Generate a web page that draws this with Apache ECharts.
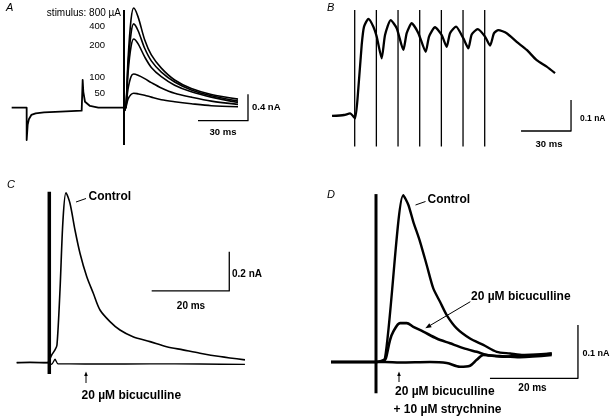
<!DOCTYPE html>
<html><head><meta charset="utf-8">
<script src="https://cdn.jsdelivr.net/npm/echarts@6/dist/echarts.min.js"></script>
<style>html,body{margin:0;padding:0;background:#fff}#c{width:614px;height:419px}</style>
</head><body><div id="c"></div>
<script>
// ---------- Panel A (ms, nA) ----------
const aPreT = [-67.4, -58.4, -58.4, -57.8, -57.0, -55.6, -53.0, -48.0, -38.0, -25.4, -24.8, -24.8, -24.4, -23.4, -20.4, -15.4, -1.4, 0];
const aPre  = [0, 0, -0.49, -0.26, -0.17, -0.11, -0.085, -0.07, -0.06, -0.045, -0.045, 0.42, 0.24, 0.09, 0.026, 0, 0, 0];
const aT   = [0, 1.2, 2.4, 4.2, 5.8, 8.4, 12.4, 16.4, 22.4, 30.4, 40.4, 52.4, 68.4];
const a800 = [-0.06, 0.03, 0.72, 1.33, 1.51, 1.38, 1.03, 0.80, 0.60, 0.42, 0.29, 0.20, 0.13];
const a400 = [-0.06, 0.03, 0.62, 1.12, 1.27, 1.17, 0.90, 0.71, 0.54, 0.39, 0.27, 0.18, 0.10];
const a200 = [-0.06, 0.03, 0.52, 0.92, 1.04, 0.97, 0.77, 0.61, 0.47, 0.34, 0.24, 0.16, 0.08];
const a100 = [-0.06, 0.02, 0.28, 0.47, 0.51, 0.49, 0.44, 0.38, 0.30, 0.22, 0.16, 0.10, 0.05];
const a50  = [-0.06, 0.01, 0.13, 0.20, 0.22, 0.21, 0.19, 0.16, 0.12, 0.09, 0.06, 0.03, 0.015];
const aStimLabels = ['stimulus: 800 µA', '400', '200', '100', '50'];
const aArtifact = [-0.565, 1.48];

// ---------- Panel B ----------
const bT = [-13.6, -6.4, -2.8, 0.2, 2.2, 4.2, 5.6, 8.2, 11.2, 13.2, 16.2, 18.2, 21.6, 25.2, 29.2, 31.2, 34.2, 38.2, 42.6, 44.6, 48.2, 52.2, 55.2, 57.2, 60.8, 65.2, 68.2, 70.2, 73.8, 78.2, 81.2, 83.6, 86.2, 91.2, 97.2, 103.2, 109.2, 115.2, 120.2];
const bI = [-0.003, 0, 0.005, -0.011, 0.087, 0.226, 0.285, 0.310, 0.285, 0.253, 0.183, 0.258, 0.306, 0.280, 0.210, 0.264, 0.296, 0.264, 0.204, 0.253, 0.283, 0.258, 0.220, 0.264, 0.285, 0.247, 0.215, 0.260, 0.277, 0.253, 0.224, 0.264, 0.274, 0.264, 0.236, 0.210, 0.177, 0.156, 0.135];
const bStimT = [0, 13, 26, 39, 52, 65, 78];
const bArtifact = [-0.102, 0.339];

// ---------- Panel C ----------
const cT = [-8.4, -5.0, -0.6, 0.62, 1.47, 1.98, 2.76, 3.53, 4.30, 5.33, 6.62, 7.91, 9.64, 11.34, 13.07, 15.64, 18.22, 21.57, 25.95, 30.25, 34.45, 38.84, 43.99, 50.43];
const cControl = [0, 0.002, 0, 0.039, 0.065, 0.090, 0.370, 0.726, 0.865, 0.811, 0.675, 0.557, 0.438, 0.353, 0.268, 0.209, 0.166, 0.132, 0.107, 0.081, 0.065, 0.048, 0.031, 0.014];
const cBicT = [-8.4, -0.6, 0.62, 1.47, 2.24, 5.33, 13.07, 25.95, 38.84, 50.43];
const cBic = [0, 0, -0.008, 0.017, -0.006, -0.006, -0.007, -0.006, -0.007, -0.009];
const cArtifact = [-0.0575, 0.87];

// ---------- Panel D ----------
const dCT = [-10.23, 0, 2.05, 6.21, 7.34, 8.48, 10.0, 11.52, 13.02, 14.55, 16.07, 18.34, 21.37, 24.39, 27.44, 30.46, 33.48, 36.53, 39.94];
const dControl = [0, 0, 0.007, 0.313, 0.295, 0.263, 0.226, 0.182, 0.138, 0.113, 0.088, 0.063, 0.044, 0.032, 0.019, 0.016, 0.013, 0.013, 0.016];
const dBT = [-10.23, 0, 2.05, 2.43, 3.18, 3.93, 5.46, 6.98, 8.48, 10.75, 13.80, 16.82, 19.84, 22.89, 25.91, 28.94, 32.73, 39.94];
const dBic = [0, 0, 0.004, 0.013, 0.041, 0.057, 0.073, 0.073, 0.066, 0.057, 0.044, 0.035, 0.026, 0.019, 0.012, 0.010, 0.012, 0.016];
const dST = [-10.23, 0, 2.05, 5.46, 12.27, 16.07, 19.09, 21.37, 22.89, 24.39, 28.18, 32.73, 39.94];
const dStr = [0, 0, 0, -0.001, 0, -0.002, -0.009, -0.007, 0.004, 0.013, 0.011, 0.009, 0.013];
const dArtifact = [-0.0587, 0.315];

// scale bars: [ms, nA]
const scaleA = [30, 0.4], scaleB = [30, 0.1], scaleC = [20, 0.2], scaleD = [20, 0.1];

// ---------- build ----------
const zip = (t, v) => t.map((x, i) => [x, v[i]]);
const K = '#000';
function ln(g, data, w, smooth, extra) {
  return Object.assign({
    type: 'line', xAxisIndex: g, yAxisIndex: g, data: data, symbol: 'none', silent: true,
    smooth: smooth || false, animation: false, clip: false,
    lineStyle: { color: K, width: w, cap: 'butt', join: 'round' }
  }, extra || {});
}
function bar(g, t0, i0, s) { // L-shaped scale bar: horizontal then vertical at right end
  return ln(g, [[t0, i0], [t0 + s[0], i0], [t0 + s[0], i0 + s[1]]], 1.3, false);
}
const series = [];
// A
series.push(ln(0, zip(aPreT, aPre), 1.8, false));
[a800, a400, a200, a100, a50].forEach(a => series.push(ln(0, zip(aT, a), 1.6, 0.3)));
series.push(ln(0, [[0, aArtifact[0]], [0, aArtifact[1]]], 2));
series.push(bar(0, 44.4, -0.197, scaleA));
// B
series.push(ln(1, zip(bT, bI), 2.3, 0.2));
bStimT.forEach(t => series.push(ln(1, [[t, bArtifact[0]], [t, bArtifact[1]]], 1.3)));
series.push(bar(1, 99.8, -0.0516, scaleB));
// C
series.push(ln(2, zip(cBicT, cBic), 1.4, 0.2));
series.push(ln(2, zip(cT, cControl), 1.6, 0.3));
series.push(ln(2, [[0, cArtifact[0]], [0, cArtifact[1]]], 3.5));
series.push(bar(2, 26.39, 0.365, scaleC));
// D
series.push(ln(3, zip(dST, dStr), 2.6, 0.3));
series.push(ln(3, zip(dBT, dBic), 2.6, 0.3));
series.push(ln(3, zip(dCT, dControl), 2.4, 0.25));
series.push(ln(3, [[0, dArtifact[0]], [0, dArtifact[1]]], 3));
series.push(bar(3, 25.9, -0.0306, scaleD));

const grids = [
  { left: 7.33, top: 2.1, width: 250, height: 145.2 },
  { left: 324.7, top: 6.5, width: 250, height: 142.6 },
  { left: 10.5, top: 185.8, width: 248.3, height: 196.5 },
  { left: 323.2, top: 186.1, width: 264, height: 213.2 }
];
const xr = [[-70, 80], [-18, 132], [-10, 54], [-12, 48]];
const yr = [[-0.6, 1.6], [-0.11, 0.35], [-0.1, 0.9], [-0.07, 0.33]];
const xAxis = xr.map((r, i) => ({ type: 'value', gridIndex: i, min: r[0], max: r[1], show: false }));
const yAxis = yr.map((r, i) => ({ type: 'value', gridIndex: i, min: r[0], max: r[1], show: false }));

const FF = '"Liberation Sans", Arial, sans-serif';
function txt(s, x, y, size, opt) {
  opt = opt || {};
  return { type: 'text', x: x, y: y, silent: true, style: {
    text: s, fill: K, font: (opt.italic ? 'italic ' : '') + (opt.bold ? 'bold ' : '') + size + 'px ' + FF,
    align: opt.align || 'left', verticalAlign: 'middle', textAlign: opt.align || 'left', textVerticalAlign: 'middle' } };
}
function seg(x1, y1, x2, y2, w) {
  return { type: 'line', silent: true, shape: { x1, y1, x2, y2 }, style: { stroke: K, lineWidth: w || 1 } };
}
function head(pts) {
  return { type: 'polygon', silent: true, shape: { points: pts }, style: { fill: K } };
}
const graphic = [
  txt('A', 6, 8, 11, { italic: true }),
  txt('B', 327, 8, 11, { italic: true }),
  txt('C', 7, 185, 11, { italic: true }),
  txt('D', 327, 195, 11, { italic: true }),
  txt(aStimLabels[0], 121, 13, 10, { align: 'right' }),
  txt(aStimLabels[1], 105, 26, 9.5, { align: 'right' }),
  txt(aStimLabels[2], 105, 45, 9.5, { align: 'right' }),
  txt(aStimLabels[3], 105, 77, 9.5, { align: 'right' }),
  txt(aStimLabels[4], 105, 93, 9.5, { align: 'right' }),
  txt(scaleA[1] + ' nA', 252, 107.5, 9.5, { bold: true }),
  txt(scaleA[0] + ' ms', 223, 132.5, 9.5, { bold: true, align: 'center' }),
  txt(scaleB[1] + ' nA', 580, 118.5, 8.5, { bold: true }),
  txt(scaleB[0] + ' ms', 549, 144, 9.5, { bold: true, align: 'center' }),
  txt(scaleC[1] + ' nA', 232, 274, 10, { bold: true }),
  txt(scaleC[0] + ' ms', 191, 306, 10, { bold: true, align: 'center' }),
  txt(scaleD[1] + ' nA', 582.5, 354, 9, { bold: true }),
  txt(scaleD[0] + ' ms', 532.5, 388.5, 10, { bold: true, align: 'center' }),
  txt('Control', 88.5, 197, 12, { bold: true }),
  txt('20 µM bicuculline', 81.5, 395.5, 12, { bold: true }),
  txt('Control', 427.5, 199.5, 12, { bold: true }),
  txt('20 µM bicuculline', 471, 297, 12, { bold: true }),
  txt('20 µM bicuculline', 395, 392, 12, { bold: true }),
  txt('+ 10 µM strychnine', 393.5, 410, 12, { bold: true }),
  // pointers
  seg(76, 202, 86, 198.5, 1),
  seg(86, 383, 86, 375, 1),
  head([[86, 371.5], [84.2, 376], [87.8, 376]]),
  seg(415.5, 205, 425.5, 201.5, 1),
  seg(470.3, 301.7, 429.5, 325.8, 1),
  head([[425.3, 328.3], [431.7, 327.2], [429.3, 323.2]]),
  seg(399, 382, 399, 375, 1),
  head([[399, 371.5], [397.2, 376], [400.8, 376]])
];

const chart = echarts.init(document.getElementById('c'), null, { renderer: 'canvas' });
chart.setOption({ animation: false, backgroundColor: '#fff', grid: grids, xAxis, yAxis, series, graphic });
</script>
</body></html>
